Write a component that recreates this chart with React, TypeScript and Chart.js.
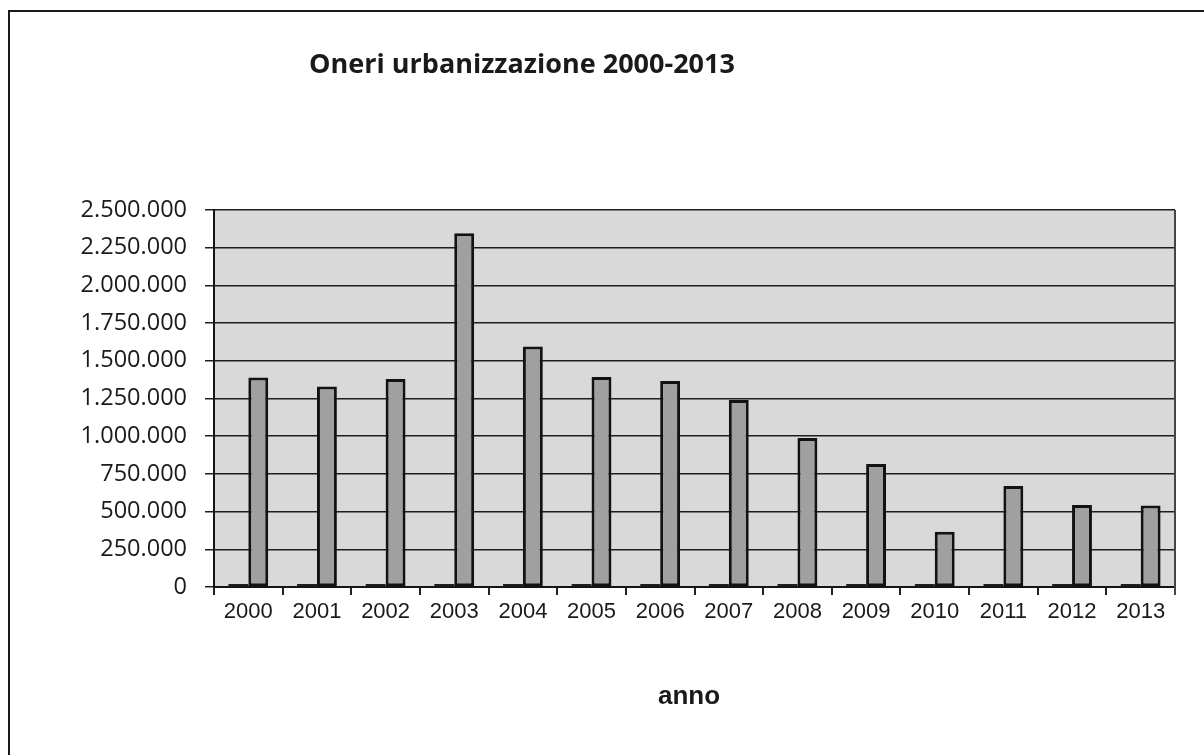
import React, { useEffect, useRef } from "react";
import { Chart, registerables } from "chart.js";

Chart.register(...registerables);

const years = ["2000", "2001", "2002", "2003", "2004", "2005", "2006", "2007", "2008", "2009", "2010", "2011", "2012", "2013"];
const annoSeries = [2000, 2001, 2002, 2003, 2004, 2005, 2006, 2007, 2008, 2009, 2010, 2011, 2012, 2013];
const oneri = [1390000, 1330000, 1380000, 2345000, 1595000, 1392000, 1366000, 1240000, 988000, 815000, 367000, 670000, 544000, 540000];
const yTicks = [0, 250000, 500000, 750000, 1000000, 1250000, 1500000, 1750000, 2000000, 2250000, 2500000];
const chartTitle = "Oneri urbanizzazione 2000-2013";
const xTitle = "anno";

const fmt = (v: number) => {
  const s = Math.round(v).toString();
  return s.replace(/\B(?=(\d{3})+(?!\d))/g, ".");
};

export default function App() {
  const ref = useRef<HTMLCanvasElement | null>(null);

  useEffect(() => {
    if (!ref.current) return;
    const decor = {
      id: "decor",
      beforeDraw(chart: any) {
        const { ctx, chartArea } = chart;
        ctx.save();
        ctx.fillStyle = "#ffffff";
        ctx.fillRect(0, 0, chart.width, chart.height);
        ctx.fillStyle = "#d9d9d9";
        ctx.fillRect(chartArea.left, chartArea.top, chartArea.right - chartArea.left, chartArea.bottom - chartArea.top);
        // outer frame (left and top)
        ctx.strokeStyle = "#1a1a1a";
        ctx.lineWidth = 2;
        ctx.beginPath();
        ctx.moveTo(9, 755);
        ctx.lineTo(9, 11);
        ctx.lineTo(1204, 11);
        ctx.stroke();
        // title
        ctx.fillStyle = "#1a1a1a";
        ctx.font = "bold 27px 'Open Sans'";
        ctx.textAlign = "center";
        ctx.textBaseline = "alphabetic";
        ctx.fillText(chartTitle, 522, 73);
        // x axis title
        ctx.font = "bold 26px 'Liberation Sans'";
        ctx.fillText(xTitle, 689, 704);
        ctx.restore();
      },
      beforeDatasetsDraw(chart: any) {
        const { ctx, chartArea } = chart;
        ctx.save();
        ctx.strokeStyle = "#444444";
        ctx.lineWidth = 2;
        ctx.beginPath();
        ctx.moveTo(chartArea.right, chartArea.top);
        ctx.lineTo(chartArea.right, chartArea.bottom + 8);
        ctx.stroke();
        ctx.restore();
      },
    };

    const chart = new Chart(ref.current, {
      type: "bar",
      data: {
        labels: years,
        datasets: [
          {
            label: "anno",
            data: annoSeries,
            backgroundColor: "#1f1f1f",
            borderWidth: 0,
            minBarLength: 3,
            categoryPercentage: 0.58,
            barPercentage: 1,
          },
          {
            label: "oneri",
            data: oneri,
            backgroundColor: "#a0a0a0",
            borderColor: "#121212",
            borderWidth: 3,
            borderSkipped: false,
            categoryPercentage: 0.58,
            barPercentage: 1,
          },
        ],
      },
      options: {
        responsive: false,
        animation: false,
        devicePixelRatio: 1,
        layout: { padding: { top: 210, right: 29, bottom: 0, left: 0 } },
        plugins: {
          legend: { display: false },
          title: { display: false },
          tooltip: { enabled: false },
        },
        scales: {
          x: {
            grid: {
              display: true,
              drawOnChartArea: false,
              drawTicks: true,
              tickLength: 8,
              color: "#222222",
              lineWidth: 2,
              offset: true,
            },
            border: { display: true, color: "#141414", width: 2 },
            ticks: {
              color: "#1a1a1a",
              font: { family: "'Liberation Sans'", size: 22 },
              padding: 4,
              maxRotation: 0,
            },
            afterFit(scale: any) {
              scale.height = 168;
            },
          },
          y: {
            min: 0,
            max: 2500000,
            afterBuildTicks(scale: any) {
              scale.ticks = yTicks.map((v) => ({ value: v }));
            },
            grid: {
              color: "#1e1e1e",
              lineWidth: 1.5,
              drawTicks: true,
              tickLength: 9,
            },
            border: { display: true, color: "#141414", width: 2 },
            ticks: {
              color: "#1a1a1a",
              font: { family: "'Open Sans'", size: 23.5 },
              padding: 18,
              callback: (v: any) => fmt(Number(v)),
            },
            afterFit(scale: any) {
              scale.width = 214;
            },
          },
        },
      },
      plugins: [decor],
    });
    return () => chart.destroy();
  }, []);

  return (
    <div style={{ position: "absolute", left: 0, top: 0, width: 1204, height: 755, background: "#fff" }}>
      <canvas ref={ref} width={1204} height={755} style={{ width: 1204, height: 755, display: "block" }} />
    </div>
  );
}
